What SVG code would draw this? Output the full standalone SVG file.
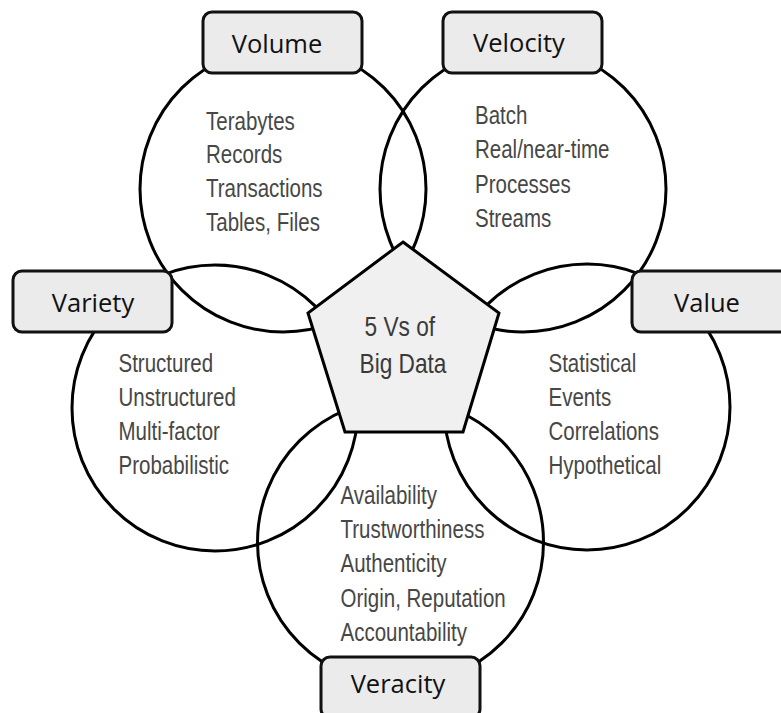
<svg xmlns="http://www.w3.org/2000/svg" width="781" height="713" viewBox="0 0 781 713">
  <style>
    .ring { fill: none; stroke: #000; stroke-width: 3; }
    .tag { fill: #ebebeb; stroke: #111; stroke-width: 3; }
    .tag-text { font-family: "Open Sans", "Noto Sans", sans-serif; font-size: 25.5px; fill: #111; text-anchor: middle; }
    .items { font-family: "Liberation Sans", Arial, sans-serif; font-size: 25px; fill: #474747; }
    .core { fill: #f0f0f0; stroke: #000; stroke-width: 3; stroke-linejoin: miter; }
    .core-text { font-family: "Liberation Sans", Arial, sans-serif; font-size: 27px; fill: #3a3a3a; text-anchor: middle; }
  </style>
  <rect width="781" height="713" fill="#fff"/>

  <!-- Volume -->
  <g id="volume">
    <circle class="ring" cx="283" cy="189" r="143"/>
    <rect class="tag" x="203" y="12" width="159" height="61" rx="9"/>
    <text class="tag-text" x="277" y="53">Volume</text>
    <text class="items" transform="matrix(0.82 0 0 1 206 129.5)">
      <tspan x="0" y="0">Terabytes</tspan>
      <tspan x="0" y="33.8">Records</tspan>
      <tspan x="0" y="67.6">Transactions</tspan>
      <tspan x="0" y="101.4">Tables, Files</tspan>
    </text>
  </g>

  <!-- Velocity -->
  <g id="velocity">
    <circle class="ring" cx="523" cy="189" r="143"/>
    <rect class="tag" x="443" y="12" width="159" height="61" rx="9"/>
    <text class="tag-text" x="519" y="52">Velocity</text>
    <text class="items" transform="matrix(0.82 0 0 1 475 124)">
      <tspan x="0" y="0">Batch</tspan>
      <tspan x="0" y="34.5">Real/near-time</tspan>
      <tspan x="0" y="69">Processes</tspan>
      <tspan x="0" y="103.5">Streams</tspan>
    </text>
  </g>

  <!-- Variety -->
  <g id="variety">
    <circle class="ring" cx="215" cy="408" r="143"/>
    <rect class="tag" x="13" y="271" width="159" height="61" rx="9"/>
    <text class="tag-text" x="93" y="312">Variety</text>
    <text class="items" transform="matrix(0.82 0 0 1 118.5 372)">
      <tspan x="0" y="0">Structured</tspan>
      <tspan x="0" y="34">Unstructured</tspan>
      <tspan x="0" y="68">Multi-factor</tspan>
      <tspan x="0" y="102">Probabilistic</tspan>
    </text>
  </g>

  <!-- Value -->
  <g id="value">
    <circle class="ring" cx="587" cy="407" r="143"/>
    <rect class="tag" x="632" y="271" width="159" height="61" rx="9"/>
    <text class="tag-text" x="707" y="312">Value</text>
    <text class="items" transform="matrix(0.82 0 0 1 548.5 372)">
      <tspan x="0" y="0">Statistical</tspan>
      <tspan x="0" y="34">Events</tspan>
      <tspan x="0" y="68">Correlations</tspan>
      <tspan x="0" y="102">Hypothetical</tspan>
    </text>
  </g>

  <!-- Veracity -->
  <g id="veracity">
    <circle class="ring" cx="400.5" cy="542" r="143"/>
    <rect class="tag" x="321" y="657" width="159" height="61" rx="9"/>
    <text class="tag-text" x="398" y="693">Veracity</text>
    <text class="items" transform="matrix(0.82 0 0 1 340.5 504)">
      <tspan x="0" y="0">Availability</tspan>
      <tspan x="0" y="34.2">Trustworthiness</tspan>
      <tspan x="0" y="68.4">Authenticity</tspan>
      <tspan x="0" y="102.6">Origin, Reputation</tspan>
      <tspan x="0" y="136.8">Accountability</tspan>
    </text>
  </g>

  <!-- Centre pentagon -->
  <g id="core">
    <polygon class="core" points="403,242 499,313 463,432 345,432 308,313"/>
    <text class="core-text" transform="matrix(0.84 0 0 1 403 336)">
      <tspan x="0" y="0">5 Vs of</tspan>
      <tspan x="0" y="37.5">Big Data</tspan>
    </text>
  </g>

  <g id="connectors"></g>
</svg>
